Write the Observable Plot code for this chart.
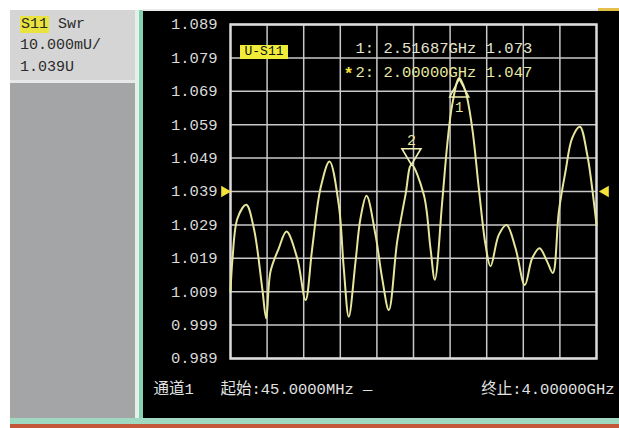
<!DOCTYPE html>
<html><head><meta charset="utf-8">
<script src="https://cdn.jsdelivr.net/npm/d3@7"></script>
<script src="https://cdn.jsdelivr.net/npm/@observablehq/plot@0.6"></script>
<style>
body{margin:0;background:#fff;}
#wrap{position:relative;width:619px;height:428px;overflow:hidden;background:#fff;font-family:"Liberation Mono","DejaVu Sans Mono",monospace;}
.abs{position:absolute;}
.info{position:absolute;left:20px;font-size:15px;color:#2a2a2a;line-height:16px;white-space:pre;}
</style></head><body><div id="wrap">
 <div class="abs" style="left:10px;top:10px;width:126px;height:408px;background:#a3a5a7"></div>
 <div class="abs" style="left:10px;top:10px;width:125px;height:70px;background:#d5d5d5;border-bottom:3px solid #e8e8e8"></div>
 <div class="abs" style="left:135px;top:10px;width:4px;height:410px;background:#e2f1e9"></div>
 <div class="abs" style="left:139px;top:10px;width:4px;height:410px;background:#86cfb1"></div>
 <div class="abs" style="left:143px;top:9px;width:476px;height:2px;background:#e9ecea"></div>
 <div class="abs" style="left:598px;top:8px;width:21px;height:3px;background:#e4c04a"></div>
 <div class="abs" style="left:10px;top:418px;width:609px;height:6px;background:#9fd9c2"></div>
 <div class="abs" style="left:10px;top:424px;width:609px;height:4px;background:#c4573a"></div>
 <div class="info" style="top:17px;"><span style="background:#e9e33f;padding:0 1px;">S11</span> Swr</div>
 <div class="info" style="top:38px;">10.000mU/</div>
 <div class="info" style="top:60px;">1.039U</div>
 <div id="chart" class="abs" style="left:143px;top:11px;"></div>
 <div class="abs" style="left:240px;top:45px;width:48px;height:14px;background:#f0ec3a;color:#111;font-size:13px;line-height:14px;text-align:center;">U-S11</div>
</div>
<script>
const freqMHz = [45, 67, 121, 215, 297, 388, 431, 477, 567, 650,
  766, 856, 928, 1018, 1115, 1215, 1269, 1323, 1396, 1450,
  1515, 1612, 1684, 1756, 1846, 1936, 2000, 2134, 2206, 2253,
  2333, 2387, 2441, 2517, 2584, 2657, 2728, 2801, 2855, 2944,
  3028, 3125, 3225, 3305, 3384, 3467, 3528, 3593, 3665, 3737,
  3820, 3900, 3971, 4000];
const swr = [1.009, 1.019, 1.031, 1.035, 1.028, 1.010, 1.001, 1.015, 1.022, 1.027,
  1.019, 1.0065, 1.022, 1.040, 1.048, 1.035, 1.016, 1.0015, 1.018, 1.031,
  1.0377, 1.026, 1.013, 1.0035, 1.024, 1.038, 1.047, 1.038, 1.022, 1.0126,
  1.036, 1.053, 1.065, 1.073, 1.069, 1.058, 1.040, 1.023, 1.0166, 1.026,
  1.029, 1.022, 1.011, 1.019, 1.022, 1.018, 1.0146, 1.033, 1.045, 1.055,
  1.0584, 1.050, 1.036, 1.029];
const yTicks = [0.989, 0.999, 1.009, 1.019, 1.029, 1.039, 1.049, 1.059, 1.069, 1.079, 1.089];
const xGrid = [440.5, 836, 1231.5, 1627, 2022.5, 2418, 2813.5, 3209, 3604.5];
const startMHz = 45, stopMHz = 4000;
const refLevel = 1.039;
const markerNames = ["1", "2"];
const markerFreq = [2516.87, 2000];
const markerSwr = [1.073, 1.047];
const readout1 = "1: 2.51687GHz 1.073";
const readout2 = "2: 2.00000GHz 1.047";
const footLeft1 = "通道1";
const footLeft2 = "起始:45.0000MHz —";
const footRight = "终止:4.00000GHz";

const trace = freqMHz.map((f, i) => ({f, v: swr[i]}));
const FONT = "'Liberation Mono','DejaVu Sans Mono','Noto Sans CJK SC',monospace";
const traceColor = "#e6e69c";

const triUp = {draw(ctx) { ctx.moveTo(0, 1); ctx.lineTo(-9.5, 19); ctx.lineTo(9.5, 19); ctx.closePath(); }};
const triDown = {draw(ctx) { ctx.moveTo(0, 0); ctx.lineTo(-9.5, -16); ctx.lineTo(9.5, -16); ctx.closePath(); }};

const chart = Plot.plot({
  width: 476, height: 407,
  marginLeft: 87, marginTop: 13, marginRight: 23, marginBottom: 60,
  style: {background: "#000", fontFamily: FONT},
  x: {domain: [startMHz, stopMHz], axis: null},
  y: {domain: [0.989, 1.089]},
  marks: [
    Plot.gridX(xGrid, {stroke: "#c9c9c9", strokeOpacity: 1, strokeWidth: 1.5}),
    Plot.gridY(yTicks, {stroke: "#c9c9c9", strokeOpacity: 1, strokeWidth: 1.5}),
    Plot.frame({stroke: "#dcdcdc", strokeWidth: 2.5}),
    Plot.axisY(yTicks, {tickSize: 0, tickPadding: 13, tickFormat: d3.format(".3f"), fontSize: 15.5, fill: "#dadada", label: null, fontFamily: FONT}),
    Plot.line(trace, {x: "f", y: "v", curve: "catmull-rom", stroke: traceColor, strokeWidth: 2}),
    Plot.dot([refLevel], {x: startMHz, y: d => d, symbol: "triangle2", rotate: 90, r: 5.5, dx: -6, fill: "#f2e23a", stroke: null}),
    Plot.dot([refLevel], {x: stopMHz, y: d => d, symbol: "triangle2", rotate: -90, r: 5.5, dx: 9, fill: "#f2e23a", stroke: null}),
    Plot.dot([0], {x: () => markerFreq[0], y: () => markerSwr[0], symbol: triUp, fill: "none", stroke: "#eeeeb0", strokeWidth: 1.6}),
    Plot.dot([0], {x: () => markerFreq[1], y: () => markerSwr[1], symbol: triDown, fill: "none", stroke: "#eeeeb0", strokeWidth: 1.6}),
    Plot.text([0], {x: () => markerFreq[0], y: () => markerSwr[0], text: () => markerNames[0], dy: 30, fill: traceColor, fontSize: 14}),
    Plot.text([0], {x: () => markerFreq[1], y: () => markerSwr[1], text: () => markerNames[1], dy: -25, fill: traceColor, fontSize: 15}),
    Plot.text([readout1], {frameAnchor: "top-left", textAnchor: "start", dx: 125, dy: 17, fill: "#e4e4cf", fontSize: 15.5}),
    Plot.text([readout2], {frameAnchor: "top-left", textAnchor: "start", dx: 125, dy: 41, fill: "#e8e8a2", fontSize: 15.5}),
    Plot.text(["*"], {frameAnchor: "top-left", textAnchor: "start", dx: 113, dy: 42, fill: "#f2e23a", fontSize: 17, fontWeight: "bold"}),
    Plot.text([footLeft1], {frameAnchor: "bottom-left", textAnchor: "start", dx: -77, dy: 35, fill: "#e2e2e2", fontSize: 15.5}),
    Plot.text([footLeft2], {frameAnchor: "bottom-left", textAnchor: "start", dx: -10, dy: 35, fill: "#e2e2e2", fontSize: 15.5}),
    Plot.text([footRight], {frameAnchor: "bottom-right", textAnchor: "end", dx: 18, dy: 35, fill: "#e2e2e2", fontSize: 15.5})
  ]
});
document.getElementById("chart").appendChild(chart);
</script>
</body></html>
